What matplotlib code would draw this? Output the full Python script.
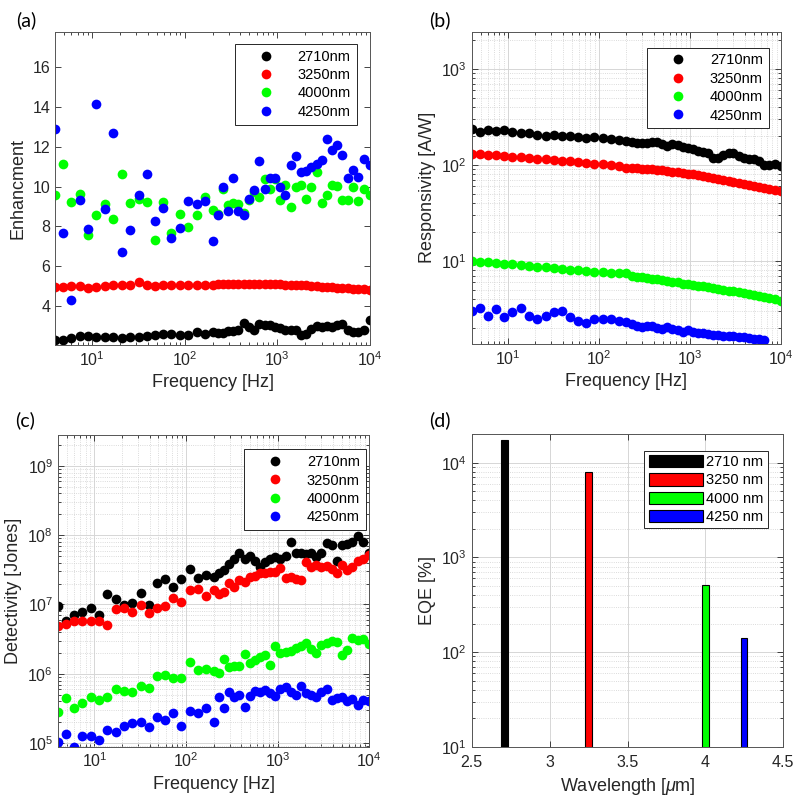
import matplotlib
matplotlib.use('Agg')
import matplotlib.pyplot as plt
import numpy as np

plt.rcParams['font.family'] = ['Liberation Sans', 'DejaVu Sans']
plt.rcParams['mathtext.fontset'] = 'custom'
plt.rcParams['mathtext.rm'] = 'Liberation Sans'
plt.rcParams['mathtext.it'] = 'Liberation Sans:italic'
plt.rcParams['mathtext.default'] = 'regular'

# frequency points [Hz]
freq = [4.0, 4.9, 6.0, 7.4, 9.1, 11.2, 13.8, 17, 21, 26, 32, 39, 48, 59, 72, 89, 110, 135, 165,
        200, 230, 260, 295, 335, 380, 435, 495, 560, 640, 730, 830, 940, 1070, 1220, 1390,
        1580, 1800, 2050, 2330, 2650, 3000, 3430, 3900, 4450, 5050, 5750, 6550, 7450, 8600, 10000]

labels = ['2710nm', '3250nm', '4000nm', '4250nm']
colors = ['#000000', '#ff0000', '#00ff00', '#0000ff']

# (a) enhancement
enh_2710 = [2.28, 2.3, 2.42, 2.5, 2.48, 2.47, 2.45, 2.44, 2.38, 2.43, 2.45, 2.5, 2.55, 2.6, 2.58, 2.56, 2.55, 2.72, 2.62,
            2.69, 2.66, 2.64, 2.75, 2.77, 2.78, 3.15, 2.95, 2.81, 3.08, 3.05, 3.03, 2.97, 2.91, 2.78, 2.81,
            2.82, 2.53, 2.6, 2.85, 2.98, 2.97, 2.98, 2.97, 3.03, 3.08, 2.8, 2.69, 2.72, 2.81, 3.31]
enh_3250 = [4.98, 4.95, 5.0, 5.02, 4.92, 4.95, 5.02, 5.05, 5.08, 5.05, 5.22, 5.05, 5.03, 5.05, 5.07, 5.08, 5.07, 5.05, 5.08,
            5.08, 5.1, 5.1, 5.1, 5.12, 5.12, 5.12, 5.13, 5.13, 5.12, 5.12, 5.12, 5.1, 5.1, 5.08, 5.08,
            5.07, 5.05, 5.05, 5.03, 5.0, 4.98, 4.97, 4.95, 4.92, 4.9, 4.9, 4.85, 4.86, 4.85, 4.83]
enh_4000 = [9.56, 11.11, 9.22, 9.64, 7.55, 8.55, 9.14, 8.39, 10.61, 9.17, 9.35, 9.22, 7.3, 9.22, 7.68, 8.64, 7.97, 8.55, 9.47,
            8.8, 8.64, 9.89, 9.06, 9.19, 9.1, 8.69, 9.31, 9.72, 9.47, 10.4, 9.89, 10.4, 9.31, 10.06, 8.97,
            9.97, 10.06, 9.39, 10.0, 10.73, 9.19, 9.56, 10.09, 10.01, 9.31, 9.31, 9.97, 9.26, 9.89, 9.56]
enh_4250 = [12.9, 7.68, 4.29, 9.34, 7.88, 14.16, 8.89, 12.7, 6.71, 7.83, 9.59, 10.61, 8.27, 8.92, 7.43, 7.94, 9.28, 9.14, 9.28,
            7.25, 8.55, 9.97, 8.75, 10.43, 8.75, 8.59, 9.36, 9.81, 11.28, 9.89, 10.43, 10.43, 9.97, 9.56, 11.1,
            11.52, 10.73, 10.76, 10.98, 11.15, 11.31, 12.37, 11.82, 12.07, 11.57, 10.43, 10.81, 10.48, 11.36, 11.1]

# (b) responsivity [A/W]
resp_2710 = [235, 222, 230, 225, 232, 220, 215, 212, 205, 200, 203, 198, 200, 196, 192, 193, 188, 185, 182,
             176, 173, 170, 170, 170, 171, 172, 163, 156, 163, 160, 154, 148, 145, 140, 135,
             134, 119, 118, 125, 132, 134, 123, 118, 116, 115, 110, 99, 100, 101, 97]
resp_3250 = [128, 128, 127, 125, 123, 121, 120, 118, 116, 114, 112, 110, 109, 107, 105, 103, 101, 99, 97,
             93, 92.5, 92, 91, 90.5, 89.5, 88.5, 87.5, 86.5, 85, 84, 82.5, 81, 79.5, 78, 76.5,
             75, 73, 71.5, 70, 68, 66.5, 65, 63, 61.5, 60, 58.5, 57, 55.5, 54, 53]
resp_4000 = [10.0, 9.8, 9.6, 9.45, 9.3, 9.15, 9.0, 8.85, 8.7, 8.55, 8.4, 8.25, 8.1, 8.0, 7.85, 7.7, 7.6, 7.55, 7.5,
             7.45, 6.9, 6.8, 6.7, 6.6, 6.5, 6.4, 6.3, 6.2, 6.05, 5.95, 5.8, 5.7, 5.6, 5.5, 5.4,
             5.3, 5.2, 5.1, 5.0, 4.9, 4.8, 4.7, 4.6, 4.5, 4.4, 4.3, 4.2, 4.1, 4.0, 3.85]
resp_4250 = [3.03, 3.2, 2.69, 3.15, 2.58, 2.95, 3.2, 2.69, 2.48, 2.69, 2.91, 2.98, 2.58, 2.38, 2.25, 2.48, 2.48, 2.48, 2.38,
             2.29, 2.2, 2.11, 2.05, 2.08, 2.11, 2.0, 1.96, 2.03, 1.95, 1.88, 1.83, 1.92, 1.82, 1.77, 1.75,
             1.73, 1.7, 1.68, 1.66, 1.65, 1.64, 1.62, 1.6, 1.56, 1.54, 1.52, 1.51, np.nan, np.nan, np.nan]

# (c) detectivity [Jones]
det_2710 = [9.5e6, 5.7e6, 7.1e6, 7.9e6, 8.8e6, 7.1e6, 1.42e7, 1.19e7, 9.8e6, 1.06e7, 1.48e7, 9.8e6, 2.02e7, 2.31e7,
            1.81e7, 2.31e7, 3.2e7, 2.38e7, 2.66e7,
            2.52e7, 2.8e7, 3.14e7, 3.9e7, 4.5e7, 5.5e7, 4.5e7, 5.0e7, 4.2e7, 3.5e7, 4.1e7, 4.6e7, 4.8e7, 4.6e7, 5.0e7,
            8.0e7, 5.5e7, 5.5e7, 5.3e7, 5.5e7, 4.8e7, 5.5e7, 7.6e7, 7.3e7, 4.3e7, 7.1e7, 7.5e7, 7.9e7, 9.8e7, 7.9e7, 5.5e7]
det_3250 = [4.9e6, 5.2e6, 5.7e6, 5.7e6, 5.7e6, 5.8e6, 5.1e6, 8.5e6, 8.8e6, 7.9e6, 9.8e6, 7.5e6, 8.8e6, 9.5e6,
            1.26e7, 1.09e7, 1.6e7, 1.7e7, 1.31e7,
            1.6e7, 1.42e7, 1.53e7, 2.02e7, 1.81e7, 2.25e7, 2.1e7, 2.47e7, 2.6e7, 2.82e7, 2.8e7, 2.98e7, 2.9e7, 3.33e7,
            2.38e7, 2.5e7, 2.3e7, 2.25e7, 4.1e7, 3.5e7, 3.7e7, 3.5e7, 3.6e7, 3.3e7, 2.82e7, 3.7e7, 3.14e7, 3.5e7,
            4.3e7, 4.6e7, 5.2e7]
det_4000 = [2.85e5, 4.45e5, 3.19e5, 3.85e5, 4.6e5, 4.2e5, 4.7e5, 6.0e5, 5.7e5, 5.4e5, 6.7e5, 6.2e5, 9.3e5, 9.6e5,
            8.6e5, 8.6e5, 1.5e6, 1.14e6, 1.16e6,
            1.1e6, 1.02e6, 1.62e6, 1.27e6, 1.3e6, 1.3e6, 1.94e6, 1.45e6, 1.6e6, 1.73e6, 1.87e6, 1.34e6, 2.52e6, 1.98e6,
            2.05e6, 2.16e6, 2.34e6, 2.5e6, 2.76e6, 2.26e6, 1.98e6, 2.61e6, 2.82e6, 3.0e6, 2.9e6, 1.87e6, 2.2e6,
            3.26e6, 3.08e6, 3.2e6, 2.7e6]
det_4250 = [1.05e5, 1.36e5, 8.9e4, 1.27e5, 1.27e5, 1.12e5, 1.56e5, 1.47e5, 1.78e5, 1.98e5, 2.05e5, 1.74e5, 2.42e5,
            2.17e5, 2.7e5, 1.78e5, 2.95e5, 2.76e5, 3.19e5,
            2.05e5, 4.6e5, 3.19e5, 5.5e5, 4.6e5, 5.0e5, 3.3e5, 4.8e5, 5.7e5, 5.5e5, 5.9e5, 5.3e5, 4.8e5, 6.0e5, 6.5e5,
            5.5e5, 5.0e5, 6.7e5, 5.3e5, 5.0e5, 4.7e5, 5.5e5, 6.0e5, 4.2e5, 4.45e5, 4.6e5, 4.0e5, 4.3e5, 3.56e5,
            4.2e5, 4.0e5]

# (d) EQE
wavelength_um = [2.71, 3.25, 4.0, 4.25]
eqe = [1.75e4, 8.0e3, 510, 140]
eqe_labels = ['2710 nm', '3250 nm', '4000 nm', '4250 nm']

TXT = '#262626'


def style(ax):
    ax.tick_params(which='both', direction='in', top=True, right=True, colors=TXT, labelsize=11.5, width=0.6)
    ax.tick_params(which='major', length=4)
    ax.tick_params(which='minor', length=2)
    for s in ax.spines.values():
        s.set_color('#555555')
        s.set_linewidth(0.7)


def add_grid(ax, minor_x=True):
    ax.set_axisbelow(True)
    ax.grid(True, which='major', color='#d6d6d6', lw=0.7)
    ax.yaxis.grid(True, which='minor', color='#cfcfcf', ls=':', lw=0.6)
    if minor_x:
        ax.xaxis.grid(True, which='minor', color='#cfcfcf', ls=':', lw=0.6)


def scatter_legend(ax, anchor):
    leg = ax.legend(loc='upper right', bbox_to_anchor=anchor, borderaxespad=0, fontsize=10.5,
                    handlelength=3.5, handletextpad=0.4, labelspacing=0.3, borderpad=0.4,
                    fancybox=False, framealpha=1)
    leg.get_frame().set_edgecolor(TXT)
    leg.get_frame().set_linewidth(0.7)


W, H = 795, 797
fig = plt.figure(figsize=(W / 100, H / 100), dpi=100)


def box(l, r, t, b):
    return [l / W, 1 - b / H, (r - l) / W, (b - t) / H]


ax_a = fig.add_axes(box(55, 370, 32, 345))
ax_b = fig.add_axes(box(471.7, 781, 31.7, 344))
ax_c = fig.add_axes(box(58, 369.3, 435, 746.7))
ax_d = fig.add_axes(box(471.7, 783.3, 434.3, 746.7))

ms = 7.0
LAB = 13

# (a)
for y, c, lab in zip([enh_2710, enh_3250, enh_4000, enh_4250], colors, labels):
    ax_a.plot(freq, y, 'o', ms=ms, mfc=c, mec=c, mew=0, label=lab)
ax_a.set_xscale('log')
ax_a.set_xlim(4, 1e4)
ax_a.set_ylim(2.05, 17.75)
ax_a.set_yticks([4, 6, 8, 10, 12, 14, 16])
ax_a.set_xlabel('Frequency [Hz]', fontsize=LAB, color=TXT)
ax_a.set_ylabel('Enhancment', fontsize=LAB, color=TXT)
style(ax_a)
scatter_legend(ax_a, (0.958, 0.962))

# (b)
for y, c, lab in zip([resp_2710, resp_3250, resp_4000, resp_4250], colors, labels):
    ax_b.plot(freq, y, 'o', ms=ms, mfc=c, mec=c, mew=0, label=lab)
ax_b.set_xscale('log')
ax_b.set_yscale('log')
ax_b.set_xlim(4, 1e4)
ax_b.set_ylim(1.36, 2430)
ax_b.set_xlabel('Frequency [Hz]', fontsize=LAB, color=TXT)
ax_b.set_ylabel('Responsivity [A/W]', fontsize=LAB, color=TXT)
add_grid(ax_b)
style(ax_b)
scatter_legend(ax_b, (0.961, 0.949))

# (c)
for y, c, lab in zip([det_2710, det_3250, det_4000, det_4250], colors, labels):
    ax_c.plot(freq, y, 'o', ms=ms, mfc=c, mec=c, mew=0, label=lab)
ax_c.set_xscale('log')
ax_c.set_yscale('log')
ax_c.set_xlim(4, 1e4)
ax_c.set_ylim(8.9e4, 2.78e9)
ax_c.set_xlabel('Frequency [Hz]', fontsize=LAB, color=TXT)
ax_c.set_ylabel('Detectivity [Jones]', fontsize=LAB, color=TXT)
add_grid(ax_c)
style(ax_c)
scatter_legend(ax_c, (0.989, 0.954))

# (d)
for x, v, c, lab in zip(wavelength_um, eqe, colors, eqe_labels):
    ax_d.bar(x, v, width=0.04, color=c, edgecolor='#000000', linewidth=0.8, label=lab)
ax_d.set_yscale('log')
ax_d.set_xlim(2.5, 4.5)
ax_d.set_ylim(10, 2e4)
ax_d.set_xticks([2.5, 3, 3.5, 4, 4.5])
ax_d.set_xticklabels(['2.5', '3', '3.5', '4', '4.5'])
ax_d.set_xlabel(r'Wavelength [$\mathit{\mu}$m]', fontsize=LAB, color=TXT)
ax_d.set_ylabel('EQE [%]', fontsize=LAB, color=TXT)
add_grid(ax_d, minor_x=False)
style(ax_d)
ax_d.tick_params(axis='x', which='minor', top=False, bottom=False)
ax_d.tick_params(axis='x', which='major', pad=6)
leg = ax_d.legend(loc='upper right', bbox_to_anchor=(0.951, 0.947), borderaxespad=0, fontsize=10.5,
                  handlelength=3.7, handleheight=0.9, handletextpad=0.25, labelspacing=0.28,
                  borderpad=0.3, fancybox=False, framealpha=1)
leg.get_frame().set_edgecolor(TXT)
leg.get_frame().set_linewidth(0.7)

# panel letters
for x, y, t in [(26, 20, '(a)'), (440, 20, '(b)'), (25, 420, '(c)'), (440, 420, '(d)')]:
    fig.text(x / W, 1 - y / H, t, fontsize=14, family=['Lato', 'DejaVu Sans'],
             ha='center', va='center', color='#000000')

fig.savefig('out.png', dpi=100)
